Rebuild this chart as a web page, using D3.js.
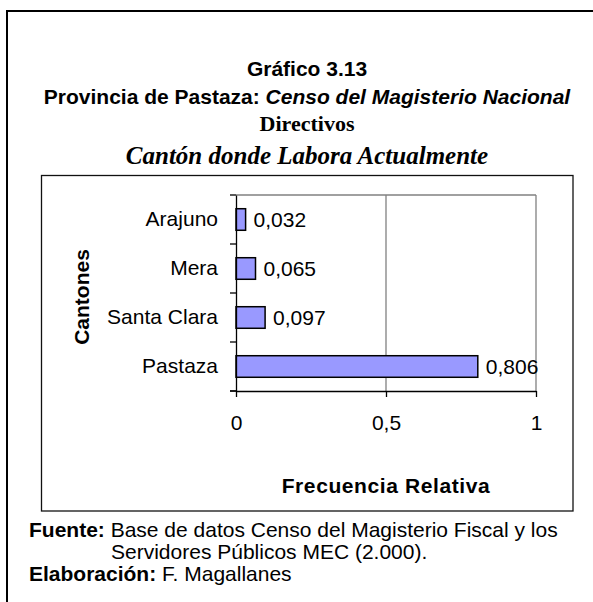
<!DOCTYPE html>
<html>
<head>
<meta charset="utf-8">
<script src="https://cdn.jsdelivr.net/npm/d3@7"></script>
<style>
  html, body { margin: 0; padding: 0; background: #fff; }
  svg { display: block; }
</style>
</head>
<body>
<script>
// ---- Data ----
const categories = ["Arajuno", "Mera", "Santa Clara", "Pastaza"];
const values = [0.032, 0.065, 0.097, 0.806];
const xTickValues = [0, 0.5, 1];
const titleLine1 = "Gráfico 3.13";
const titleLine2a = "Provincia de Pastaza: ";
const titleLine2b = "Censo del Magisterio Nacional";
const titleLine3 = "Directivos";
const titleLine4 = "Cantón donde Labora Actualmente";
const yAxisTitle = "Cantones";
const xAxisTitle = "Frecuencia Relativa";

const W = 593, H = 602;
const sans = "'Liberation Sans', Arial, sans-serif";
const serif = "'Liberation Serif', 'Times New Roman', serif";

const locale = d3.formatLocale({decimal: ",", thousands: ".", grouping: [3], currency: ["$", ""]});
const fmtTick = locale.format("~g");
const fmtVal = locale.format(".3f");

const svg = d3.select("body").append("svg").attr("width", W).attr("height", H);

// outer frame (extends beyond right/bottom)
svg.append("rect").attr("x", 7).attr("y", 11).attr("width", 620).attr("height", 640)
  .attr("fill", "none").attr("stroke", "#000").attr("stroke-width", 2);

// inner chart frame
svg.append("rect").attr("x", 41.5).attr("y", 175.5).attr("width", 531.5).attr("height", 335.5)
  .attr("fill", "#fff").attr("stroke", "#111").attr("stroke-width", 1.3);

// titles
const cx = 307;
svg.append("text").attr("x", cx).attr("y", 76).attr("text-anchor", "middle")
  .attr("font-family", sans).attr("font-weight", "bold").attr("font-size", 21).text(titleLine1);
const t2 = svg.append("text").attr("x", cx).attr("y", 104).attr("text-anchor", "middle")
  .attr("font-family", sans).attr("font-weight", "bold").attr("font-size", 21);
t2.append("tspan").text(titleLine2a);
t2.append("tspan").attr("font-style", "italic").text(titleLine2b);
svg.append("text").attr("x", cx).attr("y", 131).attr("text-anchor", "middle")
  .attr("font-family", serif).attr("font-weight", "bold").attr("font-size", 22).text(titleLine3);
svg.append("text").attr("x", cx).attr("y", 164).attr("text-anchor", "middle")
  .attr("font-family", serif).attr("font-weight", "bold").attr("font-style", "italic")
  .attr("font-size", 25).text(titleLine4);

// scales
const plot = {left: 236, right: 536, top: 195, bottom: 391};
const x = d3.scaleLinear().domain([0, 1]).range([plot.left, plot.right]);
const y = d3.scaleBand().domain(categories).range([plot.top, plot.bottom]).padding(0);
const barH = y.bandwidth() * 0.44;

// gridlines & plot border (gray)
svg.append("g").selectAll("line").data(xTickValues.filter(d => d > 0)).join("line")
  .attr("x1", d => x(d)).attr("x2", d => x(d))
  .attr("y1", plot.top).attr("y2", plot.bottom)
  .attr("stroke", "#808080").attr("stroke-width", 1.3);
svg.append("line").attr("x1", x(0)).attr("x2", x(1)).attr("y1", plot.top).attr("y2", plot.top)
  .attr("stroke", "#808080").attr("stroke-width", 1.3);

// bars
svg.append("g").selectAll("rect").data(categories).join("rect")
  .attr("x", x(0))
  .attr("y", (d) => y(d) + (y.bandwidth() - barH) / 2)
  .attr("width", (d, i) => x(values[i]) - x(0))
  .attr("height", barH)
  .attr("fill", "#9999ff").attr("stroke", "#000").attr("stroke-width", 1.5);

// value labels
svg.append("g").selectAll("text").data(categories).join("text")
  .attr("x", (d, i) => x(values[i]) + 8)
  .attr("y", d => y(d) + y.bandwidth() / 2)
  .attr("dy", "0.35em")
  .attr("font-family", sans).attr("font-size", 21).attr("fill", "#000")
  .text((d, i) => fmtVal(values[i]));

// x axis
const xAxis = svg.append("g").attr("transform", `translate(0,${plot.bottom})`)
  .call(d3.axisBottom(x).tickValues(xTickValues).tickFormat(fmtTick).tickSize(6).tickPadding(18).tickSizeOuter(0));
xAxis.select(".domain").attr("stroke", "#000").attr("stroke-width", 1.3);
xAxis.selectAll(".tick line").attr("stroke", "#000").attr("stroke-width", 1.3);
xAxis.selectAll("text").attr("font-family", sans).attr("font-size", 21).attr("fill", "#000");

// y axis (labels at band centres, ticks at band boundaries)
const yAxis = svg.append("g").attr("transform", `translate(${plot.left},0)`)
  .call(d3.axisLeft(y).tickSize(0).tickPadding(18).tickSizeOuter(0));
yAxis.select(".domain").attr("stroke", "#000").attr("stroke-width", 1.3);
yAxis.selectAll("text").attr("font-family", sans).attr("font-size", 21).attr("fill", "#000");
const bounds = categories.map(c => y(c)).concat([y(categories[categories.length - 1]) + y.bandwidth()]);
svg.append("g").selectAll("line").data(bounds).join("line")
  .attr("x1", plot.left - 6).attr("x2", plot.left)
  .attr("y1", d => d).attr("y2", d => d)
  .attr("stroke", "#000").attr("stroke-width", 1.3);
// bottom axis extends left to the tick
svg.append("line").attr("x1", plot.left - 6).attr("x2", plot.left).attr("y1", plot.bottom).attr("y2", plot.bottom)
  .attr("stroke", "#000").attr("stroke-width", 1.3);

// axis titles
svg.append("text")
  .attr("transform", `translate(89,${(plot.top + plot.bottom) / 2 + 4}) rotate(-90)`)
  .attr("text-anchor", "middle")
  .attr("font-family", sans).attr("font-weight", "bold").attr("font-size", 21).text(yAxisTitle);
svg.append("text").attr("x", 386).attr("y", 493).attr("text-anchor", "middle")
  .attr("font-family", sans).attr("font-weight", "bold").attr("font-size", 21)
  .attr("letter-spacing", 0.6).text(xAxisTitle);

// footnotes
const foot = svg.append("g").attr("font-family", sans).attr("font-size", 21).attr("fill", "#000");
const f1 = foot.append("text").attr("x", 29).attr("y", 537);
f1.append("tspan").attr("font-weight", "bold").text("Fuente:");
f1.append("tspan").text(" Base de datos Censo del Magisterio Fiscal y los");
foot.append("text").attr("x", 111).attr("y", 559).text("Servidores Públicos MEC (2.000).");
const f3 = foot.append("text").attr("x", 29).attr("y", 581);
f3.append("tspan").attr("font-weight", "bold").text("Elaboración:");
f3.append("tspan").text(" F. Magallanes");
</script>
</body>
</html>
